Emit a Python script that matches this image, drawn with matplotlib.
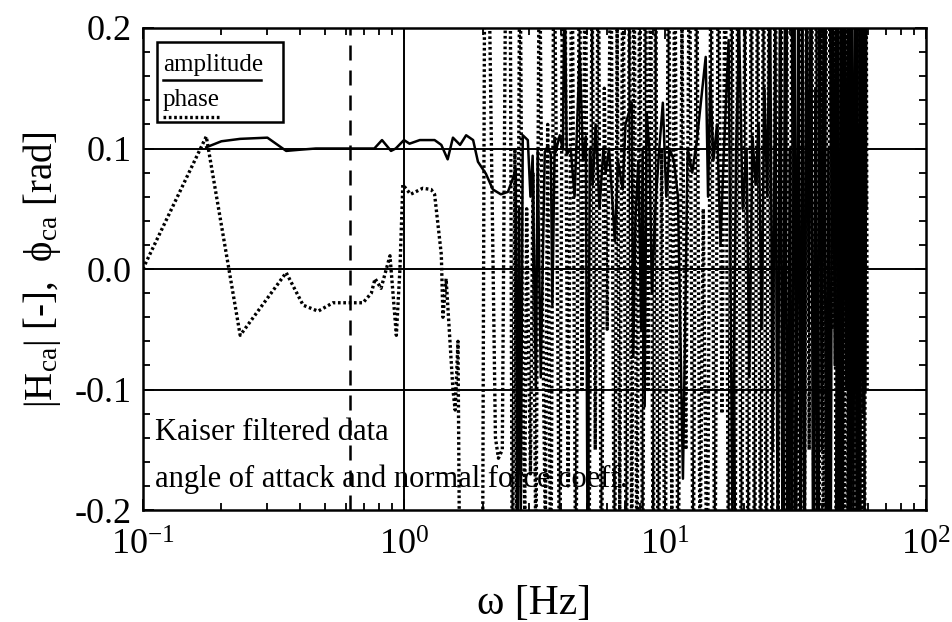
import matplotlib
matplotlib.use("Agg")
import matplotlib.pyplot as plt
from matplotlib.patches import Rectangle
from matplotlib.lines import Line2D
from matplotlib.ticker import LogLocator, MultipleLocator, FormatStrFormatter

plt.rcParams['font.family'] = ['Liberation Serif', 'DejaVu Serif']
plt.rcParams['mathtext.fontset'] = 'custom'
plt.rcParams['mathtext.rm'] = 'Liberation Serif'
plt.rcParams['mathtext.it'] = 'Liberation Serif:italic'

# amplitude |H_ca| (solid)
amp_freq = [0.175, 0.20, 0.236, 0.30, 0.354, 0.40, 0.46, 0.70, 0.77, 0.824, 0.892, 0.93,
            1.00, 1.05, 1.15, 1.31, 1.39, 1.47, 1.54, 1.64, 1.73, 1.84, 1.92, 2.06, 2.19,
            2.35, 2.50, 2.61, 2.68, 2.72, 2.76, 2.80, 2.85, 2.98, 3.05, 3.11, 3.20, 3.25,
            3.34, 3.46, 3.55, 3.65, 3.70, 3.78, 3.81, 3.95, 4.06, 4.12, 4.20,
            4.35, 4.50, 4.71, 4.85, 4.97, 5.05, 5.15, 5.28, 5.42, 5.61, 5.80, 5.92, 6.10,
            6.42, 6.60, 6.88, 7.05, 7.45, 7.55, 7.70, 7.90, 8.10, 8.20, 8.35, 8.50, 8.71,
            8.90, 9.20, 9.50, 9.80, 10.1, 10.4, 10.8, 11.2, 11.7, 12.2, 12.7, 13.2, 14.3,
            14.6, 14.9, 15.3, 15.8, 16.3, 16.8, 17.5, 18.1, 18.7, 19.2, 19.8, 20.5, 21.0,
            21.6, 22.2, 22.8, 23.4, 24.0, 24.6, 25.2, 25.8, 26.4, 27.0, 27.6, 28.2, 28.8,
            29.4, 30.0, 30.6, 31.2, 31.8, 32.4, 33.0, 33.6, 34.2, 34.8, 35.5, 36.2, 36.9,
            37.6, 38.3, 39.0, 39.8, 40.6, 41.4, 42.2, 43.0, 43.8, 44.6, 45.4, 46.2, 47.0,
            47.8, 48.6, 49.4, 50.2, 51.0, 51.8, 52.6, 53.4, 54.2, 55.0, 55.8, 56.6, 57.4,
            58.2, 59.0]
amp_val = [0.101, 0.106, 0.108, 0.109, 0.098, 0.099, 0.100, 0.100, 0.100, 0.107, 0.098, 0.100,
           0.107, 0.104, 0.107, 0.107, 0.103, 0.091, 0.109, 0.103, 0.111, 0.107, 0.089, 0.079, 0.066,
           0.062, 0.064, 0.075, 0.083, -0.25, 0.05, -0.22, 0.111, 0.107, 0.06, 0.094, -0.10, 0.099,
           -0.09, 0.097, 0.102, 0.095, -0.03, 0.109, 0.097, 0.111, 0.099, 0.25, 0.095,
           0.10, 0.06, 0.18, 0.09, 0.11, -0.25, 0.10, 0.07, 0.12, 0.05, 0.10, 0.08, 0.10,
           0.023, 0.09, 0.066, 0.12, 0.138, -0.073, 0.042, 0.09, -0.05, 0.10, -0.114, 0.13, 0.098,
           -0.02, 0.056, 0.10, 0.138, 0.06, 0.10, 0.09, 0.06, -0.174, 0.10, 0.08, 0.105, 0.176,
           0.06, 0.16, 0.09, 0.12, 0.02, 0.10, 0.19, -0.21, 0.10, 0.20, 0.05, 0.10, -0.09,
           0.11, 0.07, 0.12, -0.05, 0.15, 0.06, 0.25, -0.15, 0.20, -0.25, 0.30, -0.30, 0.25,
           -0.30, 0.10, -0.30, 0.30, -0.20, 0.30, -0.30, 0.20, -0.30, 0.30, -0.05, 0.30, -0.30,
           0.15, -0.30, 0.30, -0.15, 0.30, -0.30, 0.10, -0.30, 0.30, -0.08, 0.30, -0.30, 0.20,
           -0.30, 0.30, -0.10, 0.25, -0.30, 0.30, -0.20, 0.30, -0.30, 0.12, -0.30, 0.30, -0.12,
           0.20, 0.05]

# phase phi_ca (dotted)
ph_freq = [0.100, 0.175, 0.236, 0.354, 0.411, 0.469, 0.535, 0.61, 0.697, 0.75, 0.775, 0.817,
           0.884, 0.935, 0.965, 0.99, 1.06, 1.18, 1.27, 1.31, 1.39, 1.41, 1.45, 1.51, 1.54,
           1.57, 1.61, 1.64, 2.00, 2.04, 2.10, 2.24, 2.30, 2.38, 2.46, 2.55, 2.60, 2.66,
           2.70, 2.78, 2.85, 2.90, 2.95, 3.05, 3.12, 3.20, 3.30, 3.40, 3.48, 3.55, 3.65,
           3.75, 3.85, 3.95, 4.05, 4.15, 4.25, 4.40, 4.55, 4.70, 4.80, 4.95, 5.10, 5.25,
           5.40, 5.55, 5.70, 5.85, 6.00, 6.20, 6.40, 6.55, 6.70, 6.90, 7.10, 7.30, 7.45,
           7.60, 7.80, 8.00, 8.20, 8.40, 8.60, 8.80, 9.00, 9.20, 9.40, 9.70, 10.0, 10.3,
           10.6, 10.9, 11.2, 11.6, 12.0, 12.4, 12.8, 13.2, 13.6, 14.0, 14.5, 15.0, 15.5,
           16.0, 16.5, 17.0, 17.5, 18.0, 18.5, 19.0, 19.6, 20.2, 20.8, 21.4, 22.0, 22.6,
           23.2, 23.8, 24.4, 25.0, 25.7, 26.4, 27.1, 27.8, 28.5, 29.2, 29.9, 30.6, 31.3,
           32.0, 32.7, 33.4, 34.1, 34.8, 35.6, 36.4, 37.2, 38.0, 38.8, 39.6, 40.4, 41.2,
           42.0, 42.8, 43.6, 44.4, 45.2, 46.0, 46.8, 47.6, 48.4, 49.2, 50.0, 50.8, 51.6,
           52.4, 53.2, 54.0, 54.8, 55.6, 56.4, 57.2, 58.0, 58.8, 59.4]
ph_val = [0.000, 0.110, -0.055, -0.003, -0.030, -0.035, -0.028, -0.028, -0.028, -0.020, -0.008, -0.016,
          0.011, -0.055, 0.000, 0.070, 0.062, 0.067, 0.066, 0.062, 0.012, -0.040, -0.008, -0.070, -0.100,
          -0.117, -0.060, -0.30, -0.25, 0.30, 0.30, -0.14, -0.157, -0.15, 0.30, 0.28, -0.30, 0.10,
          -0.25, 0.30, -0.10, -0.20, 0.05, -0.17, 0.08, -0.25, 0.30, -0.05, -0.22, 0.12, -0.30,
          0.30, 0.05, -0.30, 0.30, 0.20, -0.18, 0.30, -0.30, 0.30, -0.10, 0.30, -0.30, 0.25,
          -0.15, 0.30, -0.30, 0.15, -0.05, 0.30, -0.30, 0.20, -0.20, 0.30, -0.30, 0.25, -0.25,
          0.30, -0.28, 0.30, -0.30, 0.30, -0.10, 0.30, -0.30, 0.30, -0.30, 0.10, -0.30, 0.30,
          -0.20, 0.30, -0.30, 0.20, -0.15, 0.30, -0.30, 0.30, -0.25, 0.05, -0.30, 0.30, -0.30,
          0.30, -0.12, 0.30, -0.30, 0.30, -0.30, 0.30, -0.30, 0.25, -0.30, 0.30, -0.30, 0.30,
          -0.30, 0.30, -0.30, 0.30, -0.30, 0.30, -0.20, 0.30, -0.30, 0.25, -0.30, 0.30, -0.30,
          0.05, -0.30, 0.30, -0.30, 0.30, -0.15, 0.30, -0.30, 0.30, -0.30, 0.20, -0.30, 0.30,
          -0.30, 0.30, -0.05, 0.30, -0.30, 0.30, -0.30, 0.30, -0.25, 0.30, -0.30, 0.30, -0.30,
          0.15, -0.30, 0.30, -0.30, 0.30, -0.20, 0.30, -0.30, 0.30, -0.10]

hlines = [0.1, 0.0, -0.1]
vline_solid = 1.0
vline_dashed = 0.62

fig = plt.figure(figsize=(9.52, 6.22), dpi=100)
ax = fig.add_axes([0.150, 0.180, 0.823, 0.775])

for h in hlines:
    ax.axhline(h, color='black', lw=1.4, zorder=1)
ax.axvline(vline_solid, color='black', lw=1.4, zorder=1)
ax.axvline(vline_dashed, color='black', lw=1.8, ls=(0, (6, 4)), zorder=1)

ax.plot(amp_freq, amp_val, color='black', lw=1.8, zorder=3)
ax.plot(ph_freq, ph_val, color='black', lw=2.4, ls=(0, (0.8, 0.8)), zorder=2)

ax.set_xscale('log')
ax.set_xlim(0.1, 100)
ax.set_ylim(-0.2, 0.2)
ax.yaxis.set_major_locator(MultipleLocator(0.1))
ax.yaxis.set_minor_locator(MultipleLocator(0.02))
ax.yaxis.set_major_formatter(FormatStrFormatter('%.1f'))
ax.xaxis.set_minor_locator(LogLocator(base=10, subs=range(2, 10)))

ax.tick_params(which='both', direction='in', top=True, right=True, labelsize=26, width=1.3)
ax.tick_params(which='major', length=8)
ax.tick_params(which='minor', length=5)
ax.tick_params(axis='x', which='major', pad=14)
ax.tick_params(axis='y', which='major', pad=8)
for s in ax.spines.values():
    s.set_linewidth(1.8)

ax.set_xlabel('ω [Hz]', fontsize=30, labelpad=16)
ax.set_ylabel(r'|H$_{\rm ca}$| [-],  ϕ$_{\rm ca}$ [rad]', fontsize=28, labelpad=8)

# legend box
ax.add_patch(Rectangle((0.018, 0.805), 0.161, 0.166, transform=ax.transAxes,
                       fill=False, edgecolor='black', lw=1.8, zorder=5))
ax.text(0.0255, 0.911, 'amplitude', transform=ax.transAxes, fontsize=18, va='baseline')
ax.add_line(Line2D([0.0255, 0.151], [0.892, 0.892], transform=ax.transAxes,
                   color='black', lw=1.8))
ax.text(0.0255, 0.838, 'phase', transform=ax.transAxes, fontsize=18, va='baseline')
ax.add_line(Line2D([0.0255, 0.097], [0.815, 0.815], transform=ax.transAxes,
                   color='black', lw=2.4, ls=(0, (0.8, 0.8))))

ax.text(0.0153, 0.145, 'Kaiser filtered data', transform=ax.transAxes, fontsize=22, va='baseline')
ax.text(0.0153, 0.048, 'angle of attack and normal force coeff.', transform=ax.transAxes,
        fontsize=22, va='baseline')

fig.savefig('out.png', dpi=100)
